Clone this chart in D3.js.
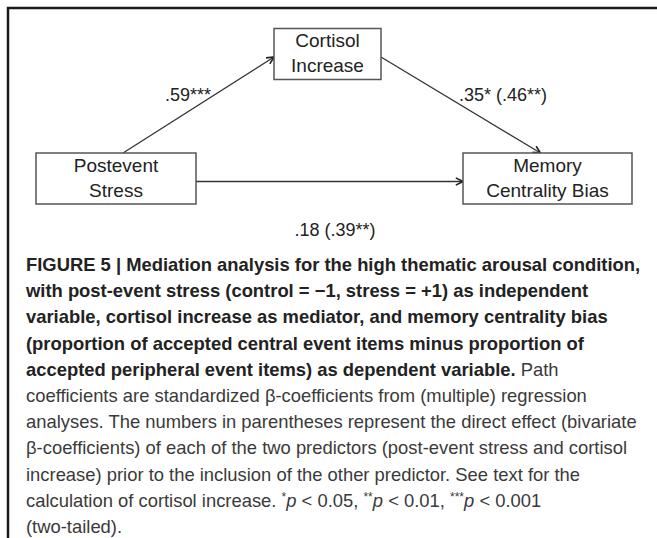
<!DOCTYPE html>
<html>
<head>
<meta charset="utf-8">
<script src="https://cdn.jsdelivr.net/npm/d3@7"></script>
<style>
  body { margin: 0; background: #fff; }
  svg { display: block; }
</style>
</head>
<body>
<div id="chart"></div>
<script>
// nodes of the mediation model
const nodeIds = ["x", "m", "y"];
const nodeLabels = [["Postevent", "Stress"], ["Cortisol", "Increase"], ["Memory", "Centrality Bias"]];

// paths between nodes and their coefficients
const pathFrom = ["x", "m", "x"];
const pathTo = ["m", "y", "y"];
const pathCoefs = [".59***", ".35* (.46**)", ".18 (.39**)"];

// caption lines: [bold part, regular part]
const captionLines = [
  ["FIGURE 5 | Mediation analysis for the high thematic arousal condition,", ""],
  ["with post-event stress (control = \u22121, stress = +1) as independent", ""],
  ["variable, cortisol increase as mediator, and memory centrality bias", ""],
  ["(proportion of accepted central event items minus proportion of", ""],
  ["accepted peripheral event items) as dependent variable.", " Path"],
  ["", "coefficients are standardized \u03b2-coefficients from (multiple) regression"],
  ["", "analyses. The numbers in parentheses represent the direct effect (bivariate"],
  ["", "\u03b2-coefficients) of each of the two predictors (post-event stress and cortisol"],
  ["", "increase) prior to the inclusion of the other predictor. See text for the"],
  ["", "calculation of cortisol increase. "],
  ["", "(two-tailed)."]
];
const pValues = ["0.05", "0.01", "0.001"];

const width = 657, height = 538;

const svg = d3.select("#chart").append("svg")
  .attr("width", width)
  .attr("height", height);

// frame (top and left rule)
svg.append("path")
  .attr("d", "M8,538 V8 H657")
  .attr("fill", "none")
  .attr("stroke", "#1a1a1a")
  .attr("stroke-width", 2.5);

// layout scales
const cx = d3.scaleOrdinal().domain(nodeIds).range([116, 327.5, 547.5]);
const cy = d3.scaleOrdinal().domain(nodeIds).range([178.5, 54, 178.5]);
const bw = d3.scaleOrdinal().domain(nodeIds).range([160, 107, 169]);
const bh = 51;

svg.append("defs").append("marker")
  .attr("id", "arrow")
  .attr("viewBox", "0 0 10 10")
  .attr("refX", 9)
  .attr("refY", 5)
  .attr("markerWidth", 9)
  .attr("markerHeight", 9)
  .attr("markerUnits", "userSpaceOnUse")
  .attr("orient", "auto")
  .append("path")
  .attr("d", "M1,1 L9,5 L1,9")
  .attr("fill", "none")
  .attr("stroke", "#222")
  .attr("stroke-width", 1.8);

// anchor points on box edges
function anchor(id, side) {
  const x = cx(id), y = cy(id), w = bw(id);
  if (side === "top") return [x, y - bh / 2];
  if (side === "left") return [x - w / 2, y];
  if (side === "right") return [x + w / 2, y];
}
const pathStart = [
  p => { const a = anchor(p, "top"); return [a[0] + 7, a[1]]; },
  p => { const a = anchor(p, "right"); return [a[0], a[1] + 3]; },
  p => { const a = anchor(p, "right"); return [a[0], a[1] + 3]; }
];
const pathEnd = [
  p => { const a = anchor(p, "left"); return [a[0], a[1] + 3]; },
  p => { const a = anchor(p, "top"); return [a[0] - 7, a[1]]; },
  p => { const a = anchor(p, "left"); return [a[0], a[1] + 3]; }
];

const links = pathFrom.map((f, i) => ({
  s: pathStart[i](f), t: pathEnd[i](pathTo[i]), label: pathCoefs[i]
}));

svg.selectAll("line.link")
  .data(links)
  .enter()
  .append("line")
  .attr("class", "link")
  .attr("x1", d => d.s[0]).attr("y1", d => d.s[1])
  .attr("x2", d => d.t[0]).attr("y2", d => d.t[1])
  .attr("stroke", "#333")
  .attr("stroke-width", 1.3)
  .attr("marker-end", "url(#arrow)");

// label placement: [x, y, anchor]
const labelPos = [[211, 101, "end"], [459, 101, "start"], [335, 236, "middle"]];
svg.selectAll("text.coef")
  .data(links)
  .enter()
  .append("text")
  .attr("class", "coef")
  .attr("x", (d, i) => labelPos[i][0])
  .attr("y", (d, i) => labelPos[i][1])
  .attr("text-anchor", (d, i) => labelPos[i][2])
  .attr("font-family", "Liberation Sans, Arial, sans-serif")
  .attr("font-size", 18)
  .attr("fill", "#222")
  .text(d => d.label);

const nodes = svg.selectAll("g.node")
  .data(nodeIds)
  .enter()
  .append("g")
  .attr("class", "node")
  .attr("transform", d => `translate(${cx(d)},${cy(d)})`);

nodes.append("rect")
  .attr("x", d => -bw(d) / 2)
  .attr("y", -bh / 2)
  .attr("width", d => bw(d))
  .attr("height", bh)
  .attr("fill", "#fff")
  .attr("stroke", "#555")
  .attr("stroke-width", 1.5);

nodes.append("text")
  .attr("text-anchor", "middle")
  .attr("font-family", "Liberation Sans, Arial, sans-serif")
  .attr("font-size", 19)
  .attr("fill", "#222")
  .selectAll("tspan")
  .data((d, i) => nodeLabels[i])
  .enter()
  .append("tspan")
  .attr("x", 0)
  .attr("y", (d, i) => i === 0 ? -7 : 18)
  .text(d => d);

// caption
const cap = svg.append("g")
  .attr("font-family", "Liberation Sans, Arial, sans-serif")
  .attr("font-size", 18.4);

const lineY = d3.scaleLinear().domain([0, captionLines.length - 1]).range([271, 533]);

const capText = cap.selectAll("text")
  .data(captionLines)
  .enter()
  .append("text")
  .attr("x", 26)
  .attr("y", (d, i) => lineY(i));

capText.append("tspan")
  .attr("font-weight", "bold")
  .attr("fill", "#222")
  .text(d => d[0]);
capText.append("tspan")
  .attr("fill", "#3a3a3a")
  .text(d => d[1]);

// significance legend on line 10
const legendLine = capText.filter((d, i) => i === 9);
const stars = ["*", "**", "***"];
stars.forEach((s, i) => {
  legendLine.append("tspan").attr("fill", "#3a3a3a").attr("font-size", 12).attr("dy", -6).text(s);
  legendLine.append("tspan").attr("fill", "#3a3a3a").attr("dy", 6).attr("font-style", "italic").text("p");
  legendLine.append("tspan").attr("fill", "#3a3a3a")
    .text(" < " + pValues[i] + (i < stars.length - 1 ? ", " : ""));
});
</script>
</body>
</html>
